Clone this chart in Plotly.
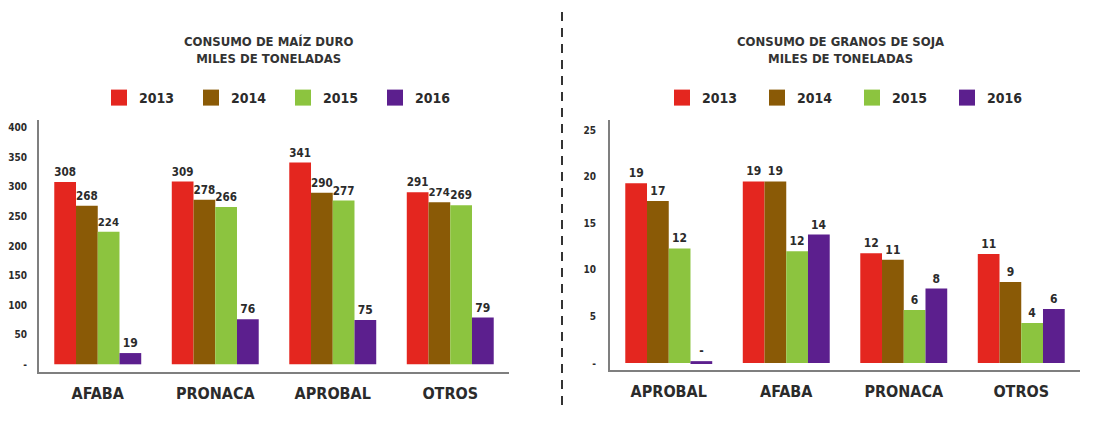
import plotly.graph_objects as go

years = ["2013", "2014", "2015", "2016"]
colors = ["#e4261f", "#8a5a06", "#8cc43f", "#5c1f8e"]

maiz_cats = ["AFABA", "PRONACA", "APROBAL", "OTROS"]
maiz_vals = {
    "2013": [308, 309, 341, 291],
    "2014": [268, 278, 290, 274],
    "2015": [224, 266, 277, 269],
    "2016": [19, 76, 75, 79],
}
maiz_text = {
    "2013": ["308", "309", "341", "291"],
    "2014": ["268", "278", "290", "274"],
    "2015": ["224", "266", "277", "269"],
    "2016": ["19", "76", "75", "79"],
}
maiz_ticks = [0, 50, 100, 150, 200, 250, 300, 350, 400]
maiz_ticktext = ["-", "50", "100", "150", "200", "250", "300", "350", "400"]

soja_cats = ["APROBAL", "AFABA", "PRONACA", "OTROS"]
soja_vals = {
    "2013": [19.3, 19.5, 11.8, 11.7],
    "2014": [17.4, 19.5, 11.1, 8.7],
    "2015": [12.3, 12.0, 5.7, 4.3],
    "2016": [0.2, 13.8, 8.0, 5.8],
}
soja_text = {
    "2013": ["19", "19", "12", "11"],
    "2014": ["17", "19", "11", "9"],
    "2015": ["12", "12", "6", "4"],
    "2016": ["-", "14", "8", "6"],
}
soja_ticks = [0, 5, 10, 15, 20, 25]
soja_ticktext = ["-", "5", "10", "15", "20", "25"]

FONT = "DejaVu Sans Condensed, Roboto, Liberation Sans, sans-serif"
DARK = "#2b2b2b"
W, H = 1096, 427
OFF = 8  # page body margin offset

fig = go.Figure()

for i, y in enumerate(years):
    fig.add_trace(go.Bar(
        x=maiz_cats, y=maiz_vals[y], name=y, marker_color=colors[i],
        marker_line_width=0, text=maiz_text[y], textposition="outside",
        textfont=dict(family=FONT, size=12, color=DARK, weight="bold"),
        cliponaxis=False, showlegend=False, xaxis="x", yaxis="y",
    ))
    fig.add_trace(go.Bar(
        x=soja_cats, y=soja_vals[y], name=y, marker_color=colors[i],
        marker_line_width=0, text=soja_text[y], textposition="outside",
        textfont=dict(family=FONT, size=12, color=DARK, weight="bold"),
        cliponaxis=False, showlegend=False, xaxis="x2", yaxis="y2",
    ))

# legend entries (square markers)
for i, y in enumerate(years):
    fig.add_trace(go.Scatter(
        x=[None], y=[None], mode="markers", name=y,
        marker=dict(symbol="square", size=17, color=colors[i]),
        legend="legend", xaxis="x", yaxis="y",
    ))
    fig.add_trace(go.Scatter(
        x=[None], y=[None], mode="markers", name=y,
        marker=dict(symbol="square", size=17, color=colors[i]),
        legend="legend2", xaxis="x2", yaxis="y2",
    ))

def px_x(p):
    return (p - OFF) / W

def px_y(p):
    return 1 - (p - OFF) / H

axis_line = dict(showline=True, linecolor="#7f7f7f", linewidth=2, showgrid=False,
                 zeroline=False, ticks="")

fig.update_layout(
    width=W, height=H,
    margin=dict(l=0, r=0, t=0, b=0, autoexpand=False),
    paper_bgcolor="white", plot_bgcolor="white",
    barmode="group", bargap=0.26, bargroupgap=0,
    font=dict(family=FONT, color=DARK),
    xaxis=dict(domain=[px_x(39), px_x(509)], anchor="y", range=[-0.5, 3.5],
               tickfont=dict(family=FONT, size=16, color=DARK, weight="bold"),
               ticklabelstandoff=6, **axis_line),
    yaxis=dict(domain=[px_y(372), px_y(120)], anchor="x", range=[-13, 413],
               tickvals=maiz_ticks, ticktext=maiz_ticktext,
               tickfont=dict(family=FONT, size=10, color=DARK, weight="bold"),
               ticklabelstandoff=8, **axis_line),
    xaxis2=dict(domain=[px_x(610), px_x(1080)], anchor="y2", range=[-0.5, 3.5],
                tickfont=dict(family=FONT, size=16, color=DARK, weight="bold"),
                ticklabelstandoff=6, **axis_line),
    yaxis2=dict(domain=[px_y(370), px_y(120)], anchor="x2", range=[-0.75, 26.1],
                tickvals=soja_ticks, ticktext=soja_ticktext,
                tickfont=dict(family=FONT, size=10, color=DARK, weight="bold"),
                ticklabelstandoff=10, **axis_line),
    legend=dict(orientation="h", x=px_x(99), y=px_y(98), yanchor="middle", xanchor="left",
                entrywidth=47, entrywidthmode="pixels", itemwidth=30,
                font=dict(family=FONT, size=14, color=DARK, weight="bold"),
                bgcolor="rgba(0,0,0,0)"),
    legend2=dict(orientation="h", x=px_x(662), y=px_y(98), yanchor="middle", xanchor="left",
                 entrywidth=50, entrywidthmode="pixels", itemwidth=30,
                 font=dict(family=FONT, size=14, color=DARK, weight="bold"),
                 bgcolor="rgba(0,0,0,0)"),
    annotations=[
        dict(text="CONSUMO DE MAÍZ DURO<br>MILES DE TONELADAS", x=px_x(268), y=px_y(49.5),
             xref="paper", yref="paper", showarrow=False, xanchor="center", yanchor="middle",
             font=dict(family=FONT, size=13, color="#333333", weight="bold")),
        dict(text="CONSUMO DE GRANOS DE SOJA<br>MILES DE TONELADAS", x=px_x(840), y=px_y(49.5),
             xref="paper", yref="paper", showarrow=False, xanchor="center", yanchor="middle",
             font=dict(family=FONT, size=13, color="#333333", weight="bold")),
    ],
    shapes=[
        dict(type="line", xref="paper", yref="paper", x0=px_x(562), x1=px_x(562),
             y0=px_y(12), y1=px_y(408), line=dict(color="#333333", width=2, dash="9px,7px")),
    ],
)

fig.write_html("out.html")
